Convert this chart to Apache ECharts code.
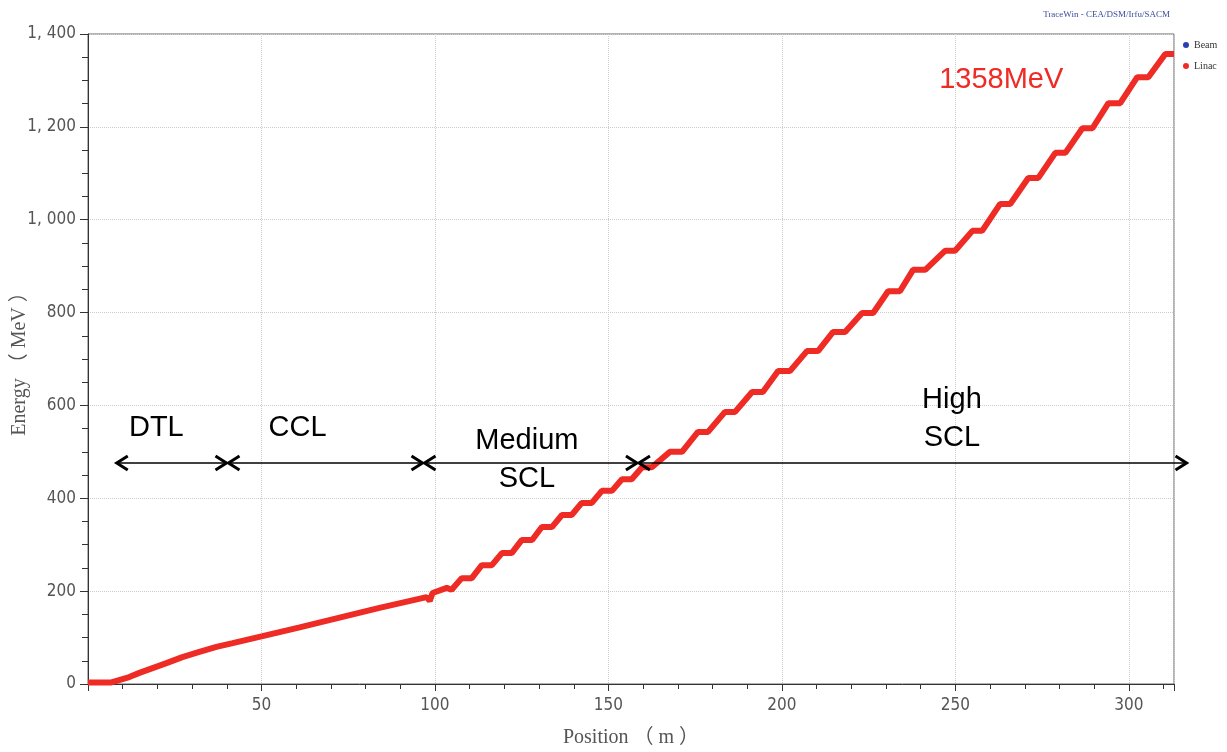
<!DOCTYPE html>
<html>
<head>
<meta charset="utf-8">
<script src="https://cdn.jsdelivr.net/npm/echarts@6/dist/echarts.min.js"></script>
<style>
  html, body { margin: 0; padding: 0; background: #fff; }
  #chart { width: 1227px; height: 752px; }
</style>
</head>
<body>
<div id="chart"></div>
<script>
// position (m) and beam energy (MeV)
const position = [0, 6.5, 11.9, 14.8, 22.6, 27.2, 32.1, 37, 41.7, 50.3, 61, 84, 97.6, 98.5, 99.3, 103.4, 104.8,
  107.7, 110.6, 113.5, 116.4, 119.3, 122.1, 125, 128, 130.8, 133.7, 136.6, 139.4, 142.3, 145.2, 148.1, 151, 153.9, 156.7,
  159.7, 162.5, 167.7, 171.2, 175.8, 178.7, 183.6, 186.5, 191.4, 194.5, 198.9, 202.3, 207.2, 210.4, 214.7, 218.2,
  223.1, 226.3, 230.6, 234, 237.8, 241.3, 247, 249.9, 254.9, 257.7, 262.9, 265.8, 271, 273.9, 278.8, 281.7,
  286.6, 289.5, 294.1, 297.5, 302.4, 305.6, 310.5, 313];
const energy = [3, 3, 15, 24, 45, 58, 69, 80, 88, 103, 122, 164, 187, 179, 196, 207, 203,
  228, 228, 256, 256, 282, 282, 310, 310, 338, 338, 364, 364, 390, 390, 416, 416, 441, 441,
  467, 467, 500, 500, 543, 543, 586, 586, 629, 629, 674, 674, 717, 717, 758, 758,
  799, 799, 846, 846, 892, 892, 933, 933, 976, 976, 1034, 1034, 1090, 1090, 1144, 1144,
  1197, 1197, 1251, 1251, 1307, 1307, 1357, 1357];

// section arrows: [from, to, energy level]
const sectionArrows = [[8, 40.2, 476], [40.2, 96.7, 476], [96.7, 158.5, 476], [158.5, 316.9, 476]];
// section labels: [x, y, text]
const sectionLabels = [[19.7, 551, 'DTL'], [60.4, 551, 'CCL'], [126.5, 482, 'Medium\nSCL'], [249, 570, 'High\nSCL']];
const finalLabel = [[263.2, 1301, '1358MeV']];

const linac = position.map((p, i) => [p, energy[i]]);

const chart = echarts.init(document.getElementById('chart'));

const fmtY = v => v >= 1000 ? Math.floor(v / 1000) + ', ' + String(v % 1000).padStart(3, '0') : String(v);

chart.setOption({
  animation: false,
  backgroundColor: '#fff',
  title: {
    text: 'TraceWin - CEA/DSM/Irfu/SACM',
    right: 52, top: 5,
    textStyle: { fontSize: 9, fontWeight: 'normal', color: '#3b4c9c', fontFamily: 'Liberation Serif' }
  },
  legend: {
    data: ['Beam', 'Linac'],
    orient: 'vertical',
    left: 1178, top: 35,
    itemGap: 11,
    icon: 'circle', itemWidth: 6, itemHeight: 6,
    textStyle: { fontSize: 10, color: '#333', fontFamily: 'Liberation Serif' }
  },
  grid: {
    left: 88, right: 53, top: 34, bottom: 68,
    containLabel: false, outerBoundsMode: 'none',
    show: true, borderColor: '#666', borderWidth: 1
  },
  xAxis: {
    type: 'value',
    min: 0, max: 313, interval: 50,
    name: 'Position （ m ）',
    nameLocation: 'middle', nameGap: 44, nameMoveOverlap: false,
    nameTextStyle: { fontSize: 20, color: '#555', fontFamily: 'Liberation Serif, Noto Sans CJK SC' },
    axisLine: { lineStyle: { color: '#333' } },
    axisTick: { show: true, length: 7, lineStyle: { color: '#333' } },
    minorTick: { show: true, splitNumber: 5, length: 5, lineStyle: { color: '#333' } },
    axisLabel: {
      showMinLabel: false, showMaxLabel: false,
      margin: 13, fontSize: 17, color: '#555',
      fontFamily: 'Liberation Sans Narrow, DejaVu Sans Condensed, sans-serif'
    },
    splitLine: { show: true, lineStyle: { color: '#ccc', type: 'dotted' } }
  },
  yAxis: {
    type: 'value',
    min: 0, max: 1400, interval: 200,
    name: 'Energy （ MeV ）',
    nameLocation: 'middle', nameGap: 58, nameMoveOverlap: false,
    nameTextStyle: { fontSize: 20, color: '#555', fontFamily: 'Liberation Serif, Noto Sans CJK SC' },
    axisLine: { show: true, lineStyle: { color: '#333' } },
    axisTick: { show: true, length: 8, lineStyle: { color: '#333' } },
    minorTick: { show: true, splitNumber: 4, length: 6, lineStyle: { color: '#333' } },
    axisLabel: {
      formatter: fmtY, margin: 12, fontSize: 17, color: '#555',
      fontFamily: 'Liberation Sans Narrow, DejaVu Sans Condensed, sans-serif'
    },
    splitLine: { show: true, lineStyle: { color: '#ccc', type: 'dotted' } }
  },
  series: [
    {
      name: 'Beam', type: 'line', data: linac,
      showSymbol: false, color: '#2a3fb0',
      lineStyle: { width: 1, color: '#2a3fb0' }, z: 2
    },
    {
      name: 'Linac', type: 'line', data: linac,
      showSymbol: false, color: '#ee2b24',
      lineStyle: { width: 6, color: '#ee2b24' }, z: 3
    },
    {
      name: 'arrows', type: 'custom', clip: false, z: 5,
      data: sectionArrows,
      encode: { x: [0, 1], y: 2 },
      renderItem: (params, api) => {
        const a = api.coord([api.value(0), api.value(2)]);
        const b = api.coord([api.value(1), api.value(2)]);
        const h = 12, w = 7;
        const head = { stroke: '#000', lineWidth: 3, fill: null };
        return {
          type: 'group',
          children: [
            { type: 'line', shape: { x1: a[0], y1: a[1], x2: b[0], y2: b[1] }, style: { stroke: '#000', lineWidth: 1.5 } },
            { type: 'polyline', shape: { points: [[a[0] + h, a[1] - w], [a[0] + 1, a[1]], [a[0] + h, a[1] + w]] }, style: head },
            { type: 'polyline', shape: { points: [[b[0] - h, b[1] - w], [b[0] - 1, b[1]], [b[0] - h, b[1] + w]] }, style: head }
          ]
        };
      }
    },
    {
      name: 'sections', type: 'scatter', symbolSize: 0, z: 6,
      itemStyle: { opacity: 1 },
      data: sectionLabels,
      label: {
        show: true, position: 'inside', formatter: p => p.data[2],
        fontSize: 29, lineHeight: 38, color: '#000', opacity: 1,
        fontFamily: 'Liberation Sans, Arial, sans-serif'
      }
    },
    {
      name: 'final', type: 'scatter', symbolSize: 0, z: 6,
      itemStyle: { opacity: 1 },
      data: finalLabel,
      label: {
        show: true, position: 'inside', formatter: p => p.data[2],
        fontSize: 29, color: '#ee2b24', opacity: 1,
        fontFamily: 'Liberation Sans, Arial, sans-serif'
      }
    }
  ]
});
</script>
</body>
</html>
